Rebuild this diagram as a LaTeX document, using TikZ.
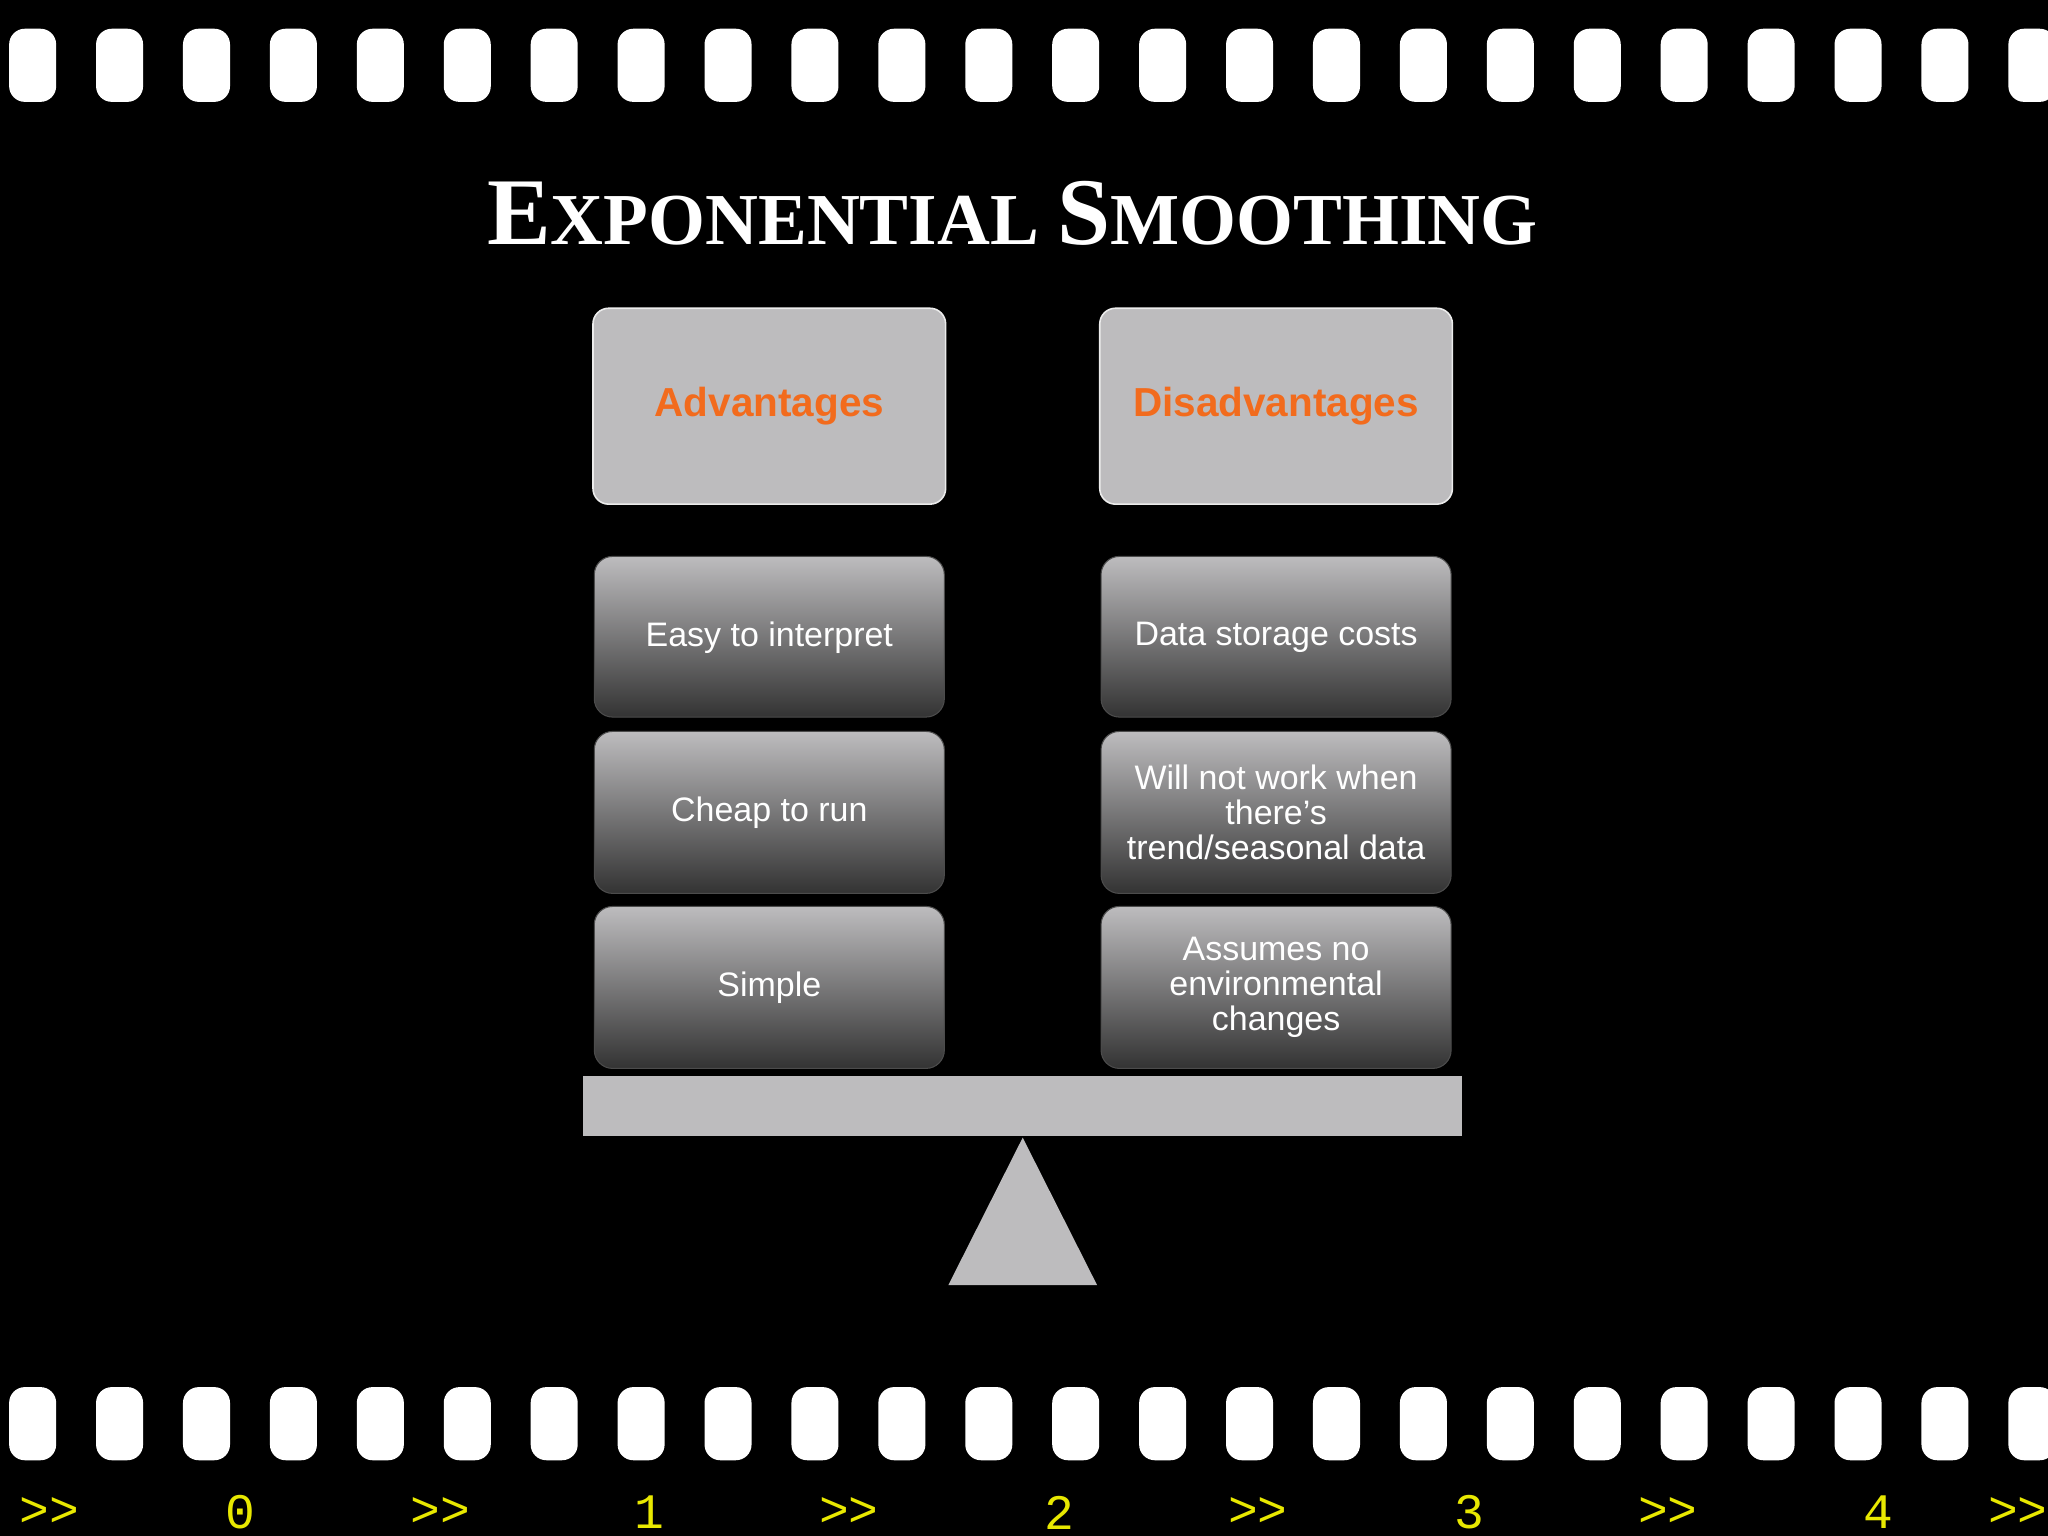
\documentclass[tikz,border=0pt]{standalone}
\usepackage{fontspec}
\setmainfont{Liberation Sans}
\newfontfamily\monof{Liberation Mono}
\newfontfamily\titlef{Liberation Serif}
\usetikzlibrary{shapes.misc}
\definecolor{boxgray}{HTML}{BDBCBE}
\definecolor{orng}{HTML}{F26B1D}
\definecolor{ylw}{HTML}{E8E800}
\begin{document}
\begin{tikzpicture}[x=0.5pt,y=-0.5pt,
  hole/.style={fill=white,rounded corners=6pt},
  head/.style={fill=boxgray,draw=white!85!gray,line width=0.6pt,rounded corners=6pt},
  item/.style={top color=boxgray,bottom color=black!80,draw=black!70,rounded corners=7pt},
  headtxt/.style={text=orng,font=\bfseries\fontsize{15.5}{18}\selectfont},
  itemtxt/.style={text=white,align=center,font=\fontsize{13}{13.3}\selectfont},
  num/.style={text=ylw,font=\monof\fontsize{19}{20}\selectfont}]
\fill[black] (0,0) rectangle (1568,1176);
\useasboundingbox (0,0) rectangle (1568,1176);
\foreach \i in {0,...,23}{
  \fill[hole] ({7+66.55*\i},22) rectangle ++(36,56);
  \fill[hole] ({7+66.55*\i},1062) rectangle ++(36,56);
}
\node[text=white] (title) at (775,163) {\resizebox{402pt}{!}{\titlef\bfseries\fontsize{30}{30}\selectfont E\fontsize{23}{23}\selectfont XPONENTIAL \fontsize{30}{30}\selectfont S\fontsize{23}{23}\selectfont MOOTHING}};
\draw[head] (454,236) rectangle (724,386);
\node[headtxt] (adv) at (589,311) {Advantages};
\draw[head] (842,236) rectangle (1112,386);
\node[headtxt] (dis) at (977,311) {Disadvantages};
\draw[item] (455,426) rectangle (723,549); \node[itemtxt] (a1) at (589,488) {Easy to interpret};
\draw[item] (455,560) rectangle (723,684); \node[itemtxt] (a2) at (589,622) {Cheap to run};
\draw[item] (455,694) rectangle (723,818); \node[itemtxt] (a3) at (589,756) {Simple};
\draw[item] (843,426) rectangle (1111,549); \node[itemtxt] (d1) at (977,488) {Data storage costs};
\draw[item] (843,560) rectangle (1111,684); \node[itemtxt] (d2) at (977,622) {Will not work when\\there’s\\trend/seasonal data};
\draw[item] (843,694) rectangle (1111,818); \node[itemtxt] (d3) at (977,756) {Assumes no\\environmental\\changes};
\fill[boxgray] (446,824) rectangle (1119,870);
\fill[boxgray] (783,871) -- (840,984) -- (726,984) -- cycle;
\foreach \t/\x in {>>/38,0/184,>>/337,1/497,>>/650,2/811,>>/963,3/1125,>>/1277,4/1438,>>/1545}
  \node[num] at (\x,1158) {\t};
\end{tikzpicture}
\end{document}
